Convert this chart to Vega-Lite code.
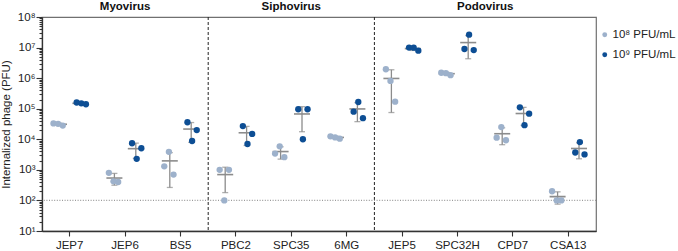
{
  "$schema": "https://vega.github.io/schema/vega-lite/v6.json",
  "width": 554,
  "height": 214,
  "autosize": {"type": "none"},
  "padding": {"left": 42, "top": 17, "right": 82, "bottom": 20},
  "background": "white",
  "config": {
    "font": "Liberation Sans",
    "view": {"stroke": "#707070", "strokeWidth": 1.2},
    "axis": {
      "grid": false,
      "domainColor": "#333333",
      "domainWidth": 1.3,
      "tickColor": "#333333",
      "tickWidth": 1.1,
      "labelColor": "#222222",
      "labelFont": "Liberation Sans",
      "labelFontSize": 11.5,
      "titleFont": "Liberation Sans",
      "titleFontWeight": "normal",
      "titleFontSize": 11.5,
      "titleColor": "#222222"
    },
    "legend": {
      "labelFont": "Liberation Sans",
      "labelFontSize": 11.5,
      "labelColor": "#222222"
    }
  },
  "datasets": {
    "internalized": [
      {"phage": "JEP7", "dose": "10⁸ PFU/mL", "rep": "8a", "pfu": 33000},
      {"phage": "JEP7", "dose": "10⁸ PFU/mL", "rep": "8b", "pfu": 32000},
      {"phage": "JEP7", "dose": "10⁸ PFU/mL", "rep": "8c", "pfu": 28000},
      {"phage": "JEP7", "dose": "10⁹ PFU/mL", "rep": "9a", "pfu": 160000},
      {"phage": "JEP7", "dose": "10⁹ PFU/mL", "rep": "9b", "pfu": 150000},
      {"phage": "JEP7", "dose": "10⁹ PFU/mL", "rep": "9c", "pfu": 140000},
      {"phage": "JEP6", "dose": "10⁸ PFU/mL", "rep": "8a", "pfu": 800},
      {"phage": "JEP6", "dose": "10⁸ PFU/mL", "rep": "8b", "pfu": 420},
      {"phage": "JEP6", "dose": "10⁸ PFU/mL", "rep": "8c", "pfu": 400},
      {"phage": "JEP6", "dose": "10⁹ PFU/mL", "rep": "9a", "pfu": 7400},
      {"phage": "JEP6", "dose": "10⁹ PFU/mL", "rep": "9b", "pfu": 2300},
      {"phage": "JEP6", "dose": "10⁹ PFU/mL", "rep": "9c", "pfu": 5100},
      {"phage": "BS5", "dose": "10⁸ PFU/mL", "rep": "8a", "pfu": 1300},
      {"phage": "BS5", "dose": "10⁸ PFU/mL", "rep": "8b", "pfu": 3900},
      {"phage": "BS5", "dose": "10⁸ PFU/mL", "rep": "8c", "pfu": 700},
      {"phage": "BS5", "dose": "10⁹ PFU/mL", "rep": "9a", "pfu": 36000},
      {"phage": "BS5", "dose": "10⁹ PFU/mL", "rep": "9b", "pfu": 8800},
      {"phage": "BS5", "dose": "10⁹ PFU/mL", "rep": "9c", "pfu": 20000},
      {"phage": "PBC2", "dose": "10⁸ PFU/mL", "rep": "8a", "pfu": 1000},
      {"phage": "PBC2", "dose": "10⁸ PFU/mL", "rep": "8b", "pfu": 100},
      {"phage": "PBC2", "dose": "10⁸ PFU/mL", "rep": "8c", "pfu": 1000},
      {"phage": "PBC2", "dose": "10⁹ PFU/mL", "rep": "9a", "pfu": 27000},
      {"phage": "PBC2", "dose": "10⁹ PFU/mL", "rep": "9b", "pfu": 7000},
      {"phage": "PBC2", "dose": "10⁹ PFU/mL", "rep": "9c", "pfu": 15000},
      {"phage": "SPC35", "dose": "10⁸ PFU/mL", "rep": "8a", "pfu": 3400},
      {"phage": "SPC35", "dose": "10⁸ PFU/mL", "rep": "8b", "pfu": 5900},
      {"phage": "SPC35", "dose": "10⁸ PFU/mL", "rep": "8c", "pfu": 2600},
      {"phage": "SPC35", "dose": "10⁹ PFU/mL", "rep": "9a", "pfu": 96000},
      {"phage": "SPC35", "dose": "10⁹ PFU/mL", "rep": "9b", "pfu": 10000},
      {"phage": "SPC35", "dose": "10⁹ PFU/mL", "rep": "9c", "pfu": 96000},
      {"phage": "6MG", "dose": "10⁸ PFU/mL", "rep": "8a", "pfu": 12500},
      {"phage": "6MG", "dose": "10⁸ PFU/mL", "rep": "8b", "pfu": 11500},
      {"phage": "6MG", "dose": "10⁸ PFU/mL", "rep": "8c", "pfu": 10500},
      {"phage": "6MG", "dose": "10⁹ PFU/mL", "rep": "9a", "pfu": 80000},
      {"phage": "6MG", "dose": "10⁹ PFU/mL", "rep": "9b", "pfu": 166000},
      {"phage": "6MG", "dose": "10⁹ PFU/mL", "rep": "9c", "pfu": 49000},
      {"phage": "JEP5", "dose": "10⁸ PFU/mL", "rep": "8a", "pfu": 1950000},
      {"phage": "JEP5", "dose": "10⁸ PFU/mL", "rep": "8b", "pfu": 810000},
      {"phage": "JEP5", "dose": "10⁸ PFU/mL", "rep": "8c", "pfu": 170000},
      {"phage": "JEP5", "dose": "10⁹ PFU/mL", "rep": "9a", "pfu": 10000000},
      {"phage": "JEP5", "dose": "10⁹ PFU/mL", "rep": "9b", "pfu": 9900000},
      {"phage": "JEP5", "dose": "10⁹ PFU/mL", "rep": "9c", "pfu": 7900000},
      {"phage": "SPC32H", "dose": "10⁸ PFU/mL", "rep": "8a", "pfu": 1500000},
      {"phage": "SPC32H", "dose": "10⁸ PFU/mL", "rep": "8b", "pfu": 1450000},
      {"phage": "SPC32H", "dose": "10⁸ PFU/mL", "rep": "8c", "pfu": 1250000},
      {"phage": "SPC32H", "dose": "10⁹ PFU/mL", "rep": "9a", "pfu": 9000000},
      {"phage": "SPC32H", "dose": "10⁹ PFU/mL", "rep": "9b", "pfu": 26400000},
      {"phage": "SPC32H", "dose": "10⁹ PFU/mL", "rep": "9c", "pfu": 8300000},
      {"phage": "CPD7", "dose": "10⁸ PFU/mL", "rep": "8a", "pfu": 11300},
      {"phage": "CPD7", "dose": "10⁸ PFU/mL", "rep": "8b", "pfu": 25000},
      {"phage": "CPD7", "dose": "10⁸ PFU/mL", "rep": "8c", "pfu": 9300},
      {"phage": "CPD7", "dose": "10⁹ PFU/mL", "rep": "9a", "pfu": 111000},
      {"phage": "CPD7", "dose": "10⁹ PFU/mL", "rep": "9b", "pfu": 29000},
      {"phage": "CPD7", "dose": "10⁹ PFU/mL", "rep": "9c", "pfu": 69000},
      {"phage": "CSA13", "dose": "10⁸ PFU/mL", "rep": "8a", "pfu": 200},
      {"phage": "CSA13", "dose": "10⁸ PFU/mL", "rep": "8b", "pfu": 100},
      {"phage": "CSA13", "dose": "10⁸ PFU/mL", "rep": "8c", "pfu": 100},
      {"phage": "CSA13", "dose": "10⁹ PFU/mL", "rep": "9a", "pfu": 3700},
      {"phage": "CSA13", "dose": "10⁹ PFU/mL", "rep": "9b", "pfu": 8100},
      {"phage": "CSA13", "dose": "10⁹ PFU/mL", "rep": "9c", "pfu": 3200}
    ]
  },
  "resolve": {"scale": {"xOffset": "independent"}},
  "layer": [
    {
      "description": "Dashed separators between the phage families",
      "data": {"values": [{"phage": "BS5"}, {"phage": "6MG"}]},
      "mark": {"type": "rule", "color": "#222222", "strokeWidth": 1, "strokeDash": [3, 2]},
      "encoding": {
        "x": {"field": "phage", "type": "nominal", "bandPosition": 1, "title": null}
      }
    },
    {
      "description": "Detection limit",
      "data": {"values": [{"limit": 100}]},
      "mark": {"type": "rule", "color": "#9a9a9a", "strokeWidth": 1.2, "strokeDash": [1, 1.6]},
      "encoding": {
        "y": {"field": "limit", "type": "quantitative", "scale": {"type": "log"}, "title": "Internalized phage (PFU)"}
      }
    },
    {
      "description": "Family headers centred on their middle phage",
      "data": {"values": [{"family": "Myovirus", "phage": "JEP6"}, {"family": "Siphovirus", "phage": "SPC35"}]},
      "mark": {"type": "text", "font": "Liberation Sans", "fontSize": 11.5, "fontWeight": "bold", "color": "#111111", "baseline": "alphabetic", "dy": -7},
      "encoding": {
        "x": {"field": "phage", "type": "nominal", "title": null},
        "y": {"datum": 100000000, "type": "quantitative", "scale": {"type": "log"}, "title": "Internalized phage (PFU)"},
        "text": {"field": "family"}
      }
    },
    {
      "description": "Podovirus header sits between its two middle phages",
      "data": {"values": [{"family": "Podovirus", "phage": "SPC32H"}]},
      "mark": {"type": "text", "font": "Liberation Sans", "fontSize": 11.5, "fontWeight": "bold", "color": "#111111", "baseline": "alphabetic", "dy": -7},
      "encoding": {
        "x": {"field": "phage", "type": "nominal", "bandPosition": 1, "title": null},
        "y": {"datum": 100000000, "type": "quantitative", "scale": {"type": "log"}, "title": "Internalized phage (PFU)"},
        "text": {"field": "family"}
      }
    },
    {
      "description": "Mean line per phage and dose",
      "data": {"name": "internalized"},
      "mark": {"type": "tick", "color": "#8c8c8c", "size": 16, "thickness": 1.6},
      "encoding": {
        "x": {"field": "phage", "type": "nominal", "title": null},
        "xOffset": {"field": "dose", "type": "nominal", "scale": {"domain": ["10⁸ PFU/mL", "10⁹ PFU/mL"], "paddingInner": 0, "paddingOuter": 0.2944}},
        "y": {"aggregate": "mean", "field": "pfu", "type": "quantitative", "scale": {"type": "log"}, "title": "Internalized phage (PFU)"}
      }
    },
    {
      "description": "Mean ± SD whiskers",
      "data": {"name": "internalized"},
      "mark": {"type": "errorbar", "extent": "stdev", "color": "#8c8c8c", "thickness": 1.3, "ticks": {"size": 6}},
      "encoding": {
        "x": {"field": "phage", "type": "nominal", "title": null},
        "xOffset": {"field": "dose", "type": "nominal", "scale": {"domain": ["10⁸ PFU/mL", "10⁹ PFU/mL"], "paddingInner": 0, "paddingOuter": 0.2944}},
        "y": {"field": "pfu", "type": "quantitative", "scale": {"type": "log"}, "title": "Internalized phage (PFU)"}
      }
    },
    {
      "description": "Individual replicates",
      "data": {"name": "internalized"},
      "mark": {"type": "circle", "size": 40, "opacity": 1},
      "encoding": {
        "x": {
          "field": "phage",
          "type": "nominal",
          "title": null,
          "scale": {
            "domain": ["JEP7", "JEP6", "BS5", "PBC2", "SPC35", "6MG", "JEP5", "SPC32H", "CPD7", "CSA13"],
            "paddingInner": 0,
            "paddingOuter": 0
          },
          "axis": {
            "labelAngle": 0,
            "labelAlign": "center",
            "labelBaseline": "top",
            "bandPosition": 0.5,
            "tickSize": 5,
            "labelPadding": 3,
            "domainColor": "#333333"
          }
        },
        "xOffset": {
          "field": "rep",
          "type": "nominal",
          "scale": {
            "domain": ["e1", "e2", "8a", "8b", "8c", "g1", "g2", "9a", "9b", "9c", "e3", "e4"],
            "paddingInner": 0,
            "paddingOuter": 0.47
          }
        },
        "y": {
          "field": "pfu",
          "type": "quantitative",
          "title": "Internalized phage (PFU)",
          "scale": {"type": "log", "domain": [10, 100000000], "nice": false},
          "axis": {
            "titlePadding": 6,
            "labelPadding": 1,
            "labelOverlap": false,
            "values": [10, 20, 30, 40, 50, 60, 70, 80, 90,
                       100, 200, 300, 400, 500, 600, 700, 800, 900,
                       1000, 2000, 3000, 4000, 5000, 6000, 7000, 8000, 9000,
                       10000, 20000, 30000, 40000, 50000, 60000, 70000, 80000, 90000,
                       100000, 200000, 300000, 400000, 500000, 600000, 700000, 800000, 900000,
                       1000000, 2000000, 3000000, 4000000, 5000000, 6000000, 7000000, 8000000, 9000000,
                       10000000, 20000000, 30000000, 40000000, 50000000, 60000000, 70000000, 80000000, 90000000,
                       100000000],
            "labelExpr": "abs(log(datum.value) / LN10 - round(log(datum.value) / LN10)) < 0.001 ? '10' + ['⁰','¹','²','³','⁴','⁵','⁶','⁷','⁸','⁹'][round(log(datum.value) / LN10)] : ''",
            "tickSize": {
              "condition": {"test": "abs(log(datum.value) / LN10 - round(log(datum.value) / LN10)) < 0.001", "value": 6},
              "value": 3
            }
          }
        },
        "color": {
          "field": "dose",
          "type": "nominal",
          "scale": {"domain": ["10⁸ PFU/mL", "10⁹ PFU/mL"], "range": ["#9db1cb", "#0d4e94"]},
          "legend": {
            "title": null,
            "orient": "none",
            "legendX": 557,
            "legendY": 12,
            "padding": 0,
            "symbolType": "circle",
            "symbolSize": 24,
            "symbolOffset": 0,
            "labelOffset": 2,
            "rowPadding": 7
          }
        }
      }
    }
  ]
}
